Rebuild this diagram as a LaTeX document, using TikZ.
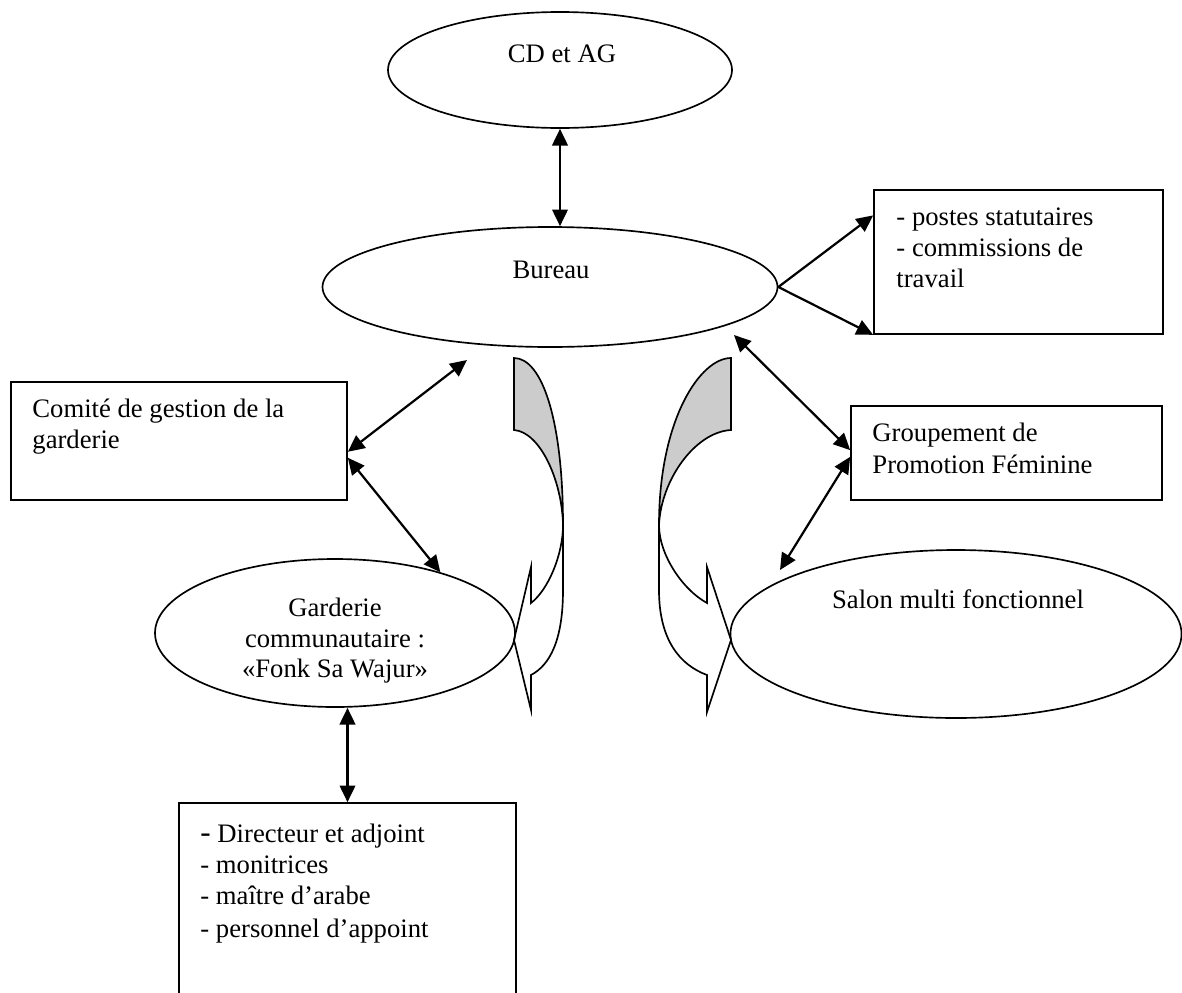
\documentclass[tikz,border=0pt]{standalone}
\usepackage{fontspec}
\setmainfont{Liberation Serif}
\usetikzlibrary{shapes.geometric,arrows.meta,calc}
\definecolor{backgray}{RGB}{204,204,204}
\tikzset{
  oval/.style={ellipse, draw, line width=0.75pt, inner sep=0pt},
  box/.style={rectangle, draw, line width=0.75pt, inner sep=0pt},
  txt/.style={inner sep=0pt, font=\fontsize{12}{14}\selectfont},
  link/.style={{Triangle[length=7.5pt,width=7pt]}-{Triangle[length=7.5pt,width=7pt]}, line width=1pt},
  onelink/.style={-{Triangle[length=7.5pt,width=7pt]}, line width=1pt},
  bent/.style={line width=0.75pt, line join=miter},
}

\begin{document}
\begin{tikzpicture}[x=0.45pt, y=-0.45pt]
	  \useasboundingbox (0,0) rectangle (1182,992);
	  \clip (0,0) rectangle (1182,992);
	  % ovals
	  \node[oval, minimum width=154.8pt, minimum height=52.2pt] (cd) at (560,70) {};
	  \node[oval, minimum width=204.75pt, minimum height=54pt] (bureau) at (550,287) {};
	  \node[oval, minimum width=162pt, minimum height=66.6pt] (garderie) at (335,633) {};
	  \node[oval, minimum width=203pt, minimum height=75.6pt] (salon) at (956,634) {};
	  % boxes
	  \node[box, minimum width=130.05pt, minimum height=64.8pt] (postes) at (1018.5,262) {};
	  \node[box, minimum width=151.2pt, minimum height=53.1pt] (comite) at (179,441) {};
	  \node[box, minimum width=139.95pt, minimum height=42.3pt] (grp) at (1006.5,453) {};
	  \node[box, minimum width=151.65pt, minimum height=90pt] (staff) at (347.5,903) {};
	  % texts
	  \node[txt, anchor=base] (cdtext) at (562,62) {CD et AG};
	  \node[txt, anchor=base] (bureautext) at (551,278) {Bureau};
	  \node[txt, anchor=base west] (postes1) at (896,225) {- postes statutaires};
	  \node[txt, anchor=base west] (postes2) at (896,256) {- commissions de};
	  \node[txt, anchor=base west] (postes3) at (896,287) {travail};
	  \node[txt, anchor=base west] (comite1) at (32,417) {Comité de gestion de la};
	  \node[txt, anchor=base west] (comite2) at (32,448) {garderie};
	  \node[txt, anchor=base west] (grp1) at (872,441) {Groupement de};
	  \node[txt, anchor=base west] (grp2) at (872,473) {Promotion Féminine};
	  \node[txt, anchor=base] (garderie1) at (335,616) {Garderie};
	  \node[txt, anchor=base] (garderie2) at (335,647) {communautaire :};
	  \node[txt, anchor=base] (garderie3) at (335,677) {«Fonk Sa Wajur»};
	  \node[txt, anchor=base] (salontext) at (958,608) {Salon multi fonctionnel};
	  \node[txt, anchor=base west] (staff1) at (200,842) {{\fontsize{14}{14}\selectfont -} Directeur et adjoint};
	  \node[txt, anchor=base west] (staff2) at (200,873) {- monitrices};
	  \node[txt, anchor=base west] (staff3) at (200,904) {- maître d’arabe};
	  \node[txt, anchor=base west] (staff4) at (200,937) {- personnel d’appoint};
	  % free ends below the bureau and above the salon
	  \coordinate (bureausw) at (467,360);
	  \coordinate (bureause) at (734,335);
	  \coordinate (salonnw) at (780,570);
	  % links
	  \draw[link] (cd.south) -- (cd.south |- bureau.north);
	  \draw[onelink] (bureau.east) -- ($(postes.north west)!0.18!(postes.south west)$);
	  \draw[onelink] (bureau.east) -- (postes.south west);
	  \draw[link] ($(comite.north east)!0.59!(comite.south east)$) -- (bureausw);
	  \draw[link] ($(comite.north east)!0.64!(comite.south east)$) -- (garderie.30);
	  \draw[link] (bureause) -- ($(grp.north west)!0.47!(grp.south west)$);
	  \draw[link] ($(grp.north west)!0.54!(grp.south west)$) -- (salonnw);
	  \draw[link] (staff.north) -- (staff.north |- garderie.south);
	  % bent arrows
	  \filldraw[bent, fill=backgray] (514,358) .. controls (542,358) and (563,420) .. (563,525) .. controls (562,480) and (540,432) .. (514,430) -- cycle;
	  \draw[bent] (563,525) -- (563,590) .. controls (563,640) and (550,665) .. (531,675) -- (531,710) -- (514,640) -- (531,567) -- (531,603) .. controls (548,590) and (563,555) .. (563,525);
	  \filldraw[bent, fill=backgray] (731,358) .. controls (700,358) and (659,420) .. (659,525) .. controls (661,480) and (695,432) .. (731,430) -- cycle;
	  \draw[bent] (659,525) -- (659,590) .. controls (659,640) and (680,665) .. (707,675) -- (707,712) -- (731,640) -- (707,567) -- (707,603) .. controls (683,590) and (659,555) .. (659,525);
	\end{tikzpicture}
\end{document}
